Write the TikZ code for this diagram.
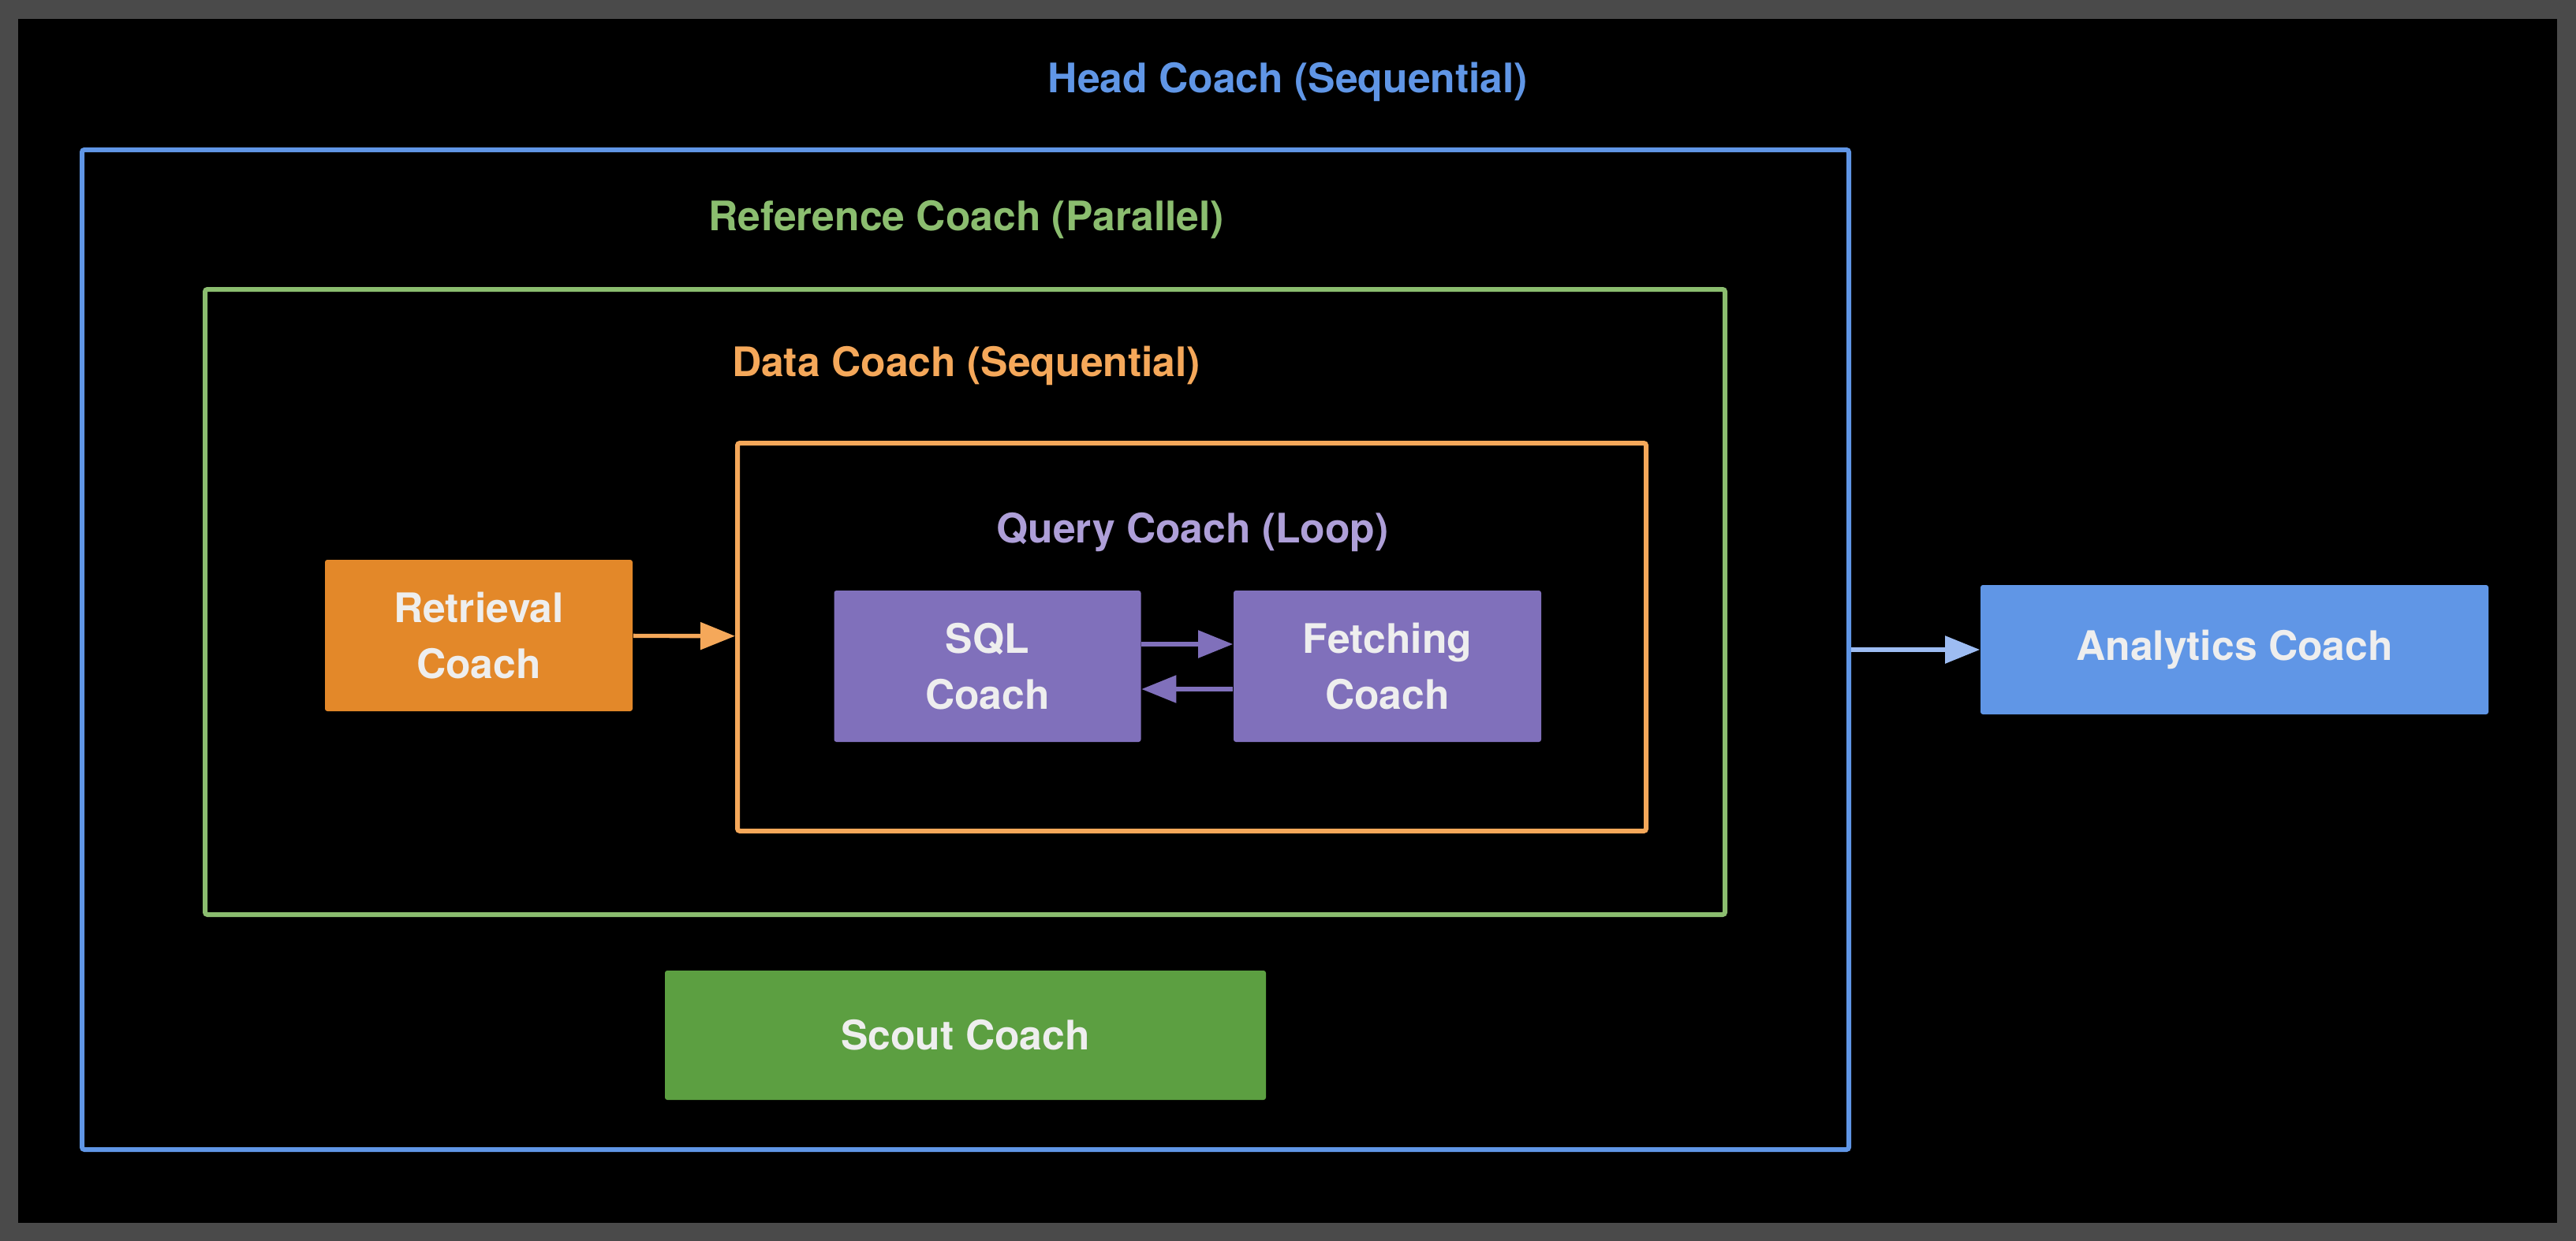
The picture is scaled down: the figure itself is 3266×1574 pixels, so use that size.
\documentclass[tikz,border=0pt]{standalone}
\usepackage{fontspec}
\setmainfont{TeX Gyre Heros}
\usetikzlibrary{arrows.meta,fit}

\definecolor{bggray}{HTML}{4A4A4A}
\definecolor{headblue}{HTML}{6096E6}
\definecolor{lightblue}{HTML}{9DBCF2}
\definecolor{refgreen}{HTML}{8BBD6F}
\definecolor{datorange}{HTML}{F5A85A}
\definecolor{qrypurple}{HTML}{AE9FD8}
\definecolor{boxpurple}{HTML}{8070BB}
\definecolor{boxorange}{HTML}{E38829}
\definecolor{boxgreen}{HTML}{5C9F41}
\definecolor{boxtext}{HTML}{EEEEEE}

\begin{document}
\begin{tikzpicture}[x=0.25pt,y=-0.25pt,
    frame/.style={draw,line width=1.5pt,inner sep=0pt,rounded corners=0.75pt},
    title/.style={font=\fontsize{12.9}{15}\selectfont\bfseries},
    coach node/.style={rectangle,rounded corners=0.75pt,text=boxtext,align=center,
        font=\fontsize{12.9}{17.75}\selectfont\bfseries,inner sep=0pt},
    link/.style={line width=1.35pt,-{Triangle[length=11pt,width=8.5pt]}}]
                % background
                \fill[bggray] (0,0) rectangle (3266,1574);
                \fill[black] (23,24) rectangle (3242,1551);

                % containers
                \node[frame,draw=headblue,fit={(104,190) (2344,1458)}] (head) {};
                \node[frame,draw=refgreen,fit={(260,367) (2187,1160)}] (ref) {};
                \node[frame,draw=datorange,fit={(935,562) (2087,1054)}] (data) {};

                \node[title,text=headblue] at (1633,104) (headlbl) {Head Coach (Sequential)};
                \node[title,text=refgreen] at (1225,279) (reflbl) {Reference Coach (Parallel)};
                \node[title,text=datorange] at (1225,464) (datalbl) {Data Coach (Sequential)};
                \node[title,text=qrypurple] at (1512,675) (qrylbl) {Query Coach (Loop)};

                % coaches
                \node[coach node,fill=boxorange,minimum width=97.5pt,minimum height=48pt] at (607,806) (retr) {Retrieval\\Coach};
                \node[coach node,fill=boxpurple,minimum width=97.25pt,minimum height=48pt] at (1252,845) (sql) {SQL\\Coach};
                \node[coach node,fill=boxpurple,minimum width=97.5pt,minimum height=48pt] at (1759,845) (fetch) {Fetching\\Coach};
                \node[coach node,fill=boxgreen,minimum width=190.5pt,minimum height=41pt] at (1224,1313) (scout) {Scout Coach};
                \node[coach node,fill=headblue,minimum width=161pt,minimum height=41pt] at (2833,824) (anly) {Analytics Coach};

                \path
                    (retr) edge[link,datorange] (data)
                    ([yshift=7pt]sql.east) edge[link,boxpurple] ([yshift=7pt]fetch.west)
                    ([yshift=-7.25pt]fetch.west) edge[link,boxpurple] ([yshift=-7.25pt]sql.east)
                    (head.east) edge[link,lightblue] (anly)
                    ;
            \end{tikzpicture}
\end{document}
